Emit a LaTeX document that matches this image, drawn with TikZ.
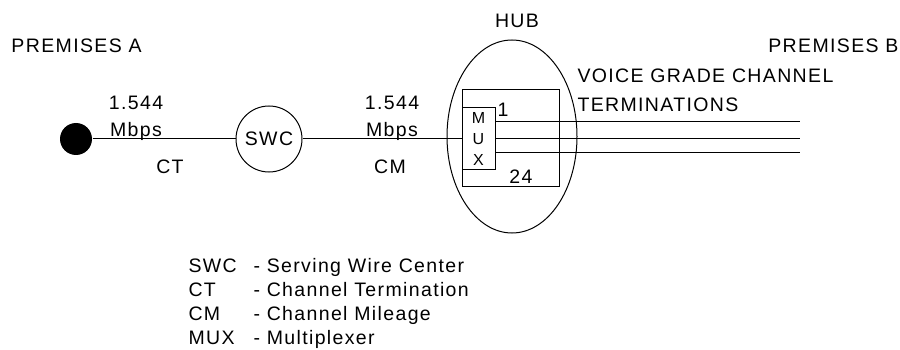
\documentclass[tikz,border=0pt]{standalone}
\usepackage{fontspec}
\setmainfont{Liberation Sans}[LetterSpace=7]
\usetikzlibrary{shapes.geometric}
\tikzset{
  lbl/.style={inner sep=0pt,anchor=base},
  wire/.style={line width=1pt}
}
\begin{document}
\begin{tikzpicture}[x=1pt,y=-1pt,line width=1pt,font=\fontsize{19.5}{23}\selectfont]
\useasboundingbox (0,0) rectangle (900,350);
% premises, wire center and hub
\node[fill,circle,minimum size=32pt,inner sep=0pt] (premA) at (76,139) {};
\node[draw,circle,minimum size=66pt,inner sep=0pt] (swc) at (269,139) {SWC};
\node[draw,ellipse,minimum width=130pt,minimum height=193pt,inner sep=0pt] (hub) at (512,136.5) {};
\node[draw,minimum width=97pt,minimum height=97pt,inner sep=0pt] (frame) at (510.5,138.5) {};
\node[draw,minimum width=33pt,minimum height=62pt,inner sep=0pt,align=center,
  font=\fontsize{16}{21}\selectfont] (mux) at (478.5,139) {M\\U\\X};
\path (800,122) coordinate (ch1) (800,139) coordinate (ch2) (800,153) coordinate (ch3);
\draw[wire] (premA) -- (swc) (swc) -- (mux);
\draw[wire] (mux.east |- ch1) -- (ch1) (mux.east |- ch2) -- (ch2) (mux.east |- ch3) -- (ch3);
% labels
\node[lbl,anchor=base west] (nameA) at (11,53) {PREMISES A};
\node[lbl,anchor=base east] (nameB) at (899,53) {PREMISES B};
\node[lbl] (hubname) at (517,28) {HUB};
\node[lbl] (rateCT) at (136,110) {1.544};
\node[lbl] (unitCT) at (136,137) {Mbps};
\node[lbl] (ct) at (170,174) {CT};
\node[lbl] (rateCM) at (392,110) {1.544};
\node[lbl] (unitCM) at (392,137) {Mbps};
\node[lbl] (cm) at (390,174) {CM};
\node[lbl,anchor=base west] (vg1) at (577,83) {VOICE GRADE CHANNEL};
\node[lbl,anchor=base west] (vg2) at (577,112) {TERMINATIONS};
\node[lbl,anchor=base west] (first) at (497,117) {1};
\node[lbl] (last) at (521,184) {24};
% legend
\foreach \abbr/\txt [count=\i] in {SWC/Serving Wire Center,CT/Channel Termination,CM/Channel Mileage,MUX/Multiplexer}{
  \node[lbl,anchor=base west] (key\i) at (188,248+24*\i) {\abbr};
  \node[lbl,anchor=base west] (def\i) at (253,248+24*\i) {- \txt};
}
\end{tikzpicture}
\end{document}
